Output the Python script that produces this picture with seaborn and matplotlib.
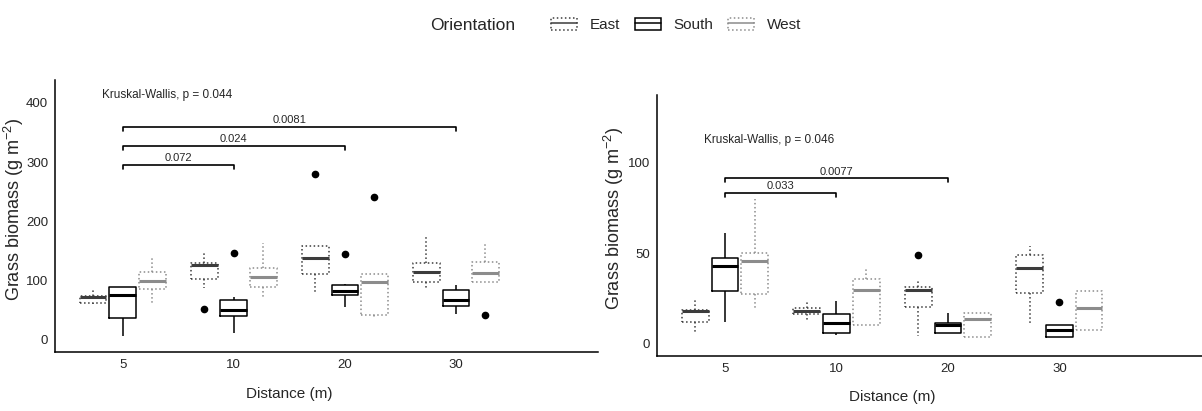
import numpy as np
import pandas as pd
import matplotlib.pyplot as plt
import seaborn as sns
from matplotlib.patches import Patch
from matplotlib.lines import Line2D
from matplotlib.legend_handler import HandlerTuple

# distances (x categories) and orientations (hue)
distances = ["5", "10", "20", "30"]
orientations = ["East", "South", "West"]

left_east = [
    [61, 62, 62, 62, 72, 72, 75, 75, 80, 87],
    [53, 87, 103, 103, 126, 126, 129, 129, 137, 146],
    [79, 95, 112, 112, 138, 138, 158, 158, 158, 280],
    [87, 92, 97, 97, 115, 115, 130, 130, 150, 174],
]
left_south = [
    [7, 20, 37, 37, 76, 76, 90, 90, 90, 90],
    [11, 30, 41, 41, 51, 51, 68, 68, 72, 146],
    [55, 70, 76, 76, 83, 83, 93, 93, 95, 145],
    [44, 50, 57, 57, 68, 68, 85, 85, 90, 93],
]
left_west = [
    [59, 75, 86, 86, 100, 100, 115, 115, 125, 138],
    [73, 82, 90, 90, 106, 106, 121, 121, 140, 163],
    [39, 40, 42, 42, 98, 98, 112, 112, 112, 242],
    [42, 97, 97, 97, 113, 113, 131, 131, 150, 166],
]
right_east = [
    [6, 9, 12, 12, 18, 18, 19, 19, 22, 25],
    [12.5, 14, 16.5, 16.5, 18, 18, 19.7, 19.7, 22, 24],
    [4.5, 12, 20.5, 20.5, 29.8, 29.8, 31.5, 31.5, 35.7, 49],
    [11, 20, 28, 28, 42, 42, 49, 49, 52, 54],
]
right_south = [
    [12, 20, 29, 29, 43, 43, 47.5, 47.5, 55, 61],
    [5, 6, 6.3, 6.3, 11.4, 11.4, 16.5, 16.5, 20, 24],
    [6, 6, 6, 6, 10.5, 10.5, 11.5, 11.5, 14, 17],
    [3.7, 3.7, 3.7, 3.7, 7.7, 7.7, 10.5, 10.5, 10.5, 23.3],
]
right_west = [
    [19, 23, 27.5, 27.5, 46, 46, 50.5, 50.5, 65, 80],
    [10.5, 10.5, 10.5, 10.5, 30, 30, 36, 36, 39, 42],
    [4, 4, 4, 4, 14, 14, 17, 17, 17, 17],
    [7.7, 7.7, 7.7, 7.7, 20, 20, 29, 29, 29, 29],
]

# pairwise comparisons: (group a, group b, bracket height, p label)
left_pairs = [(0, 1, 295, "0.072"), (0, 2, 327, "0.024"), (0, 3, 360, "0.0081")]
right_pairs = [(0, 1, 83.5, "0.033"), (0, 2, 91.4, "0.0077")]
left_kw = "Kruskal-Wallis, p = 0.044"
right_kw = "Kruskal-Wallis, p = 0.046"

colors = {"East": "#3c3c3c", "South": "#000000", "West": "#8c8c8c"}
styles = {"East": ":", "South": "-", "West": ":"}


def to_long(east, south, west):
    rows = []
    for name, series in zip(orientations, [east, south, west]):
        for dist, values in zip(distances, series):
            for v in values:
                rows.append({"Distance": dist, "Orientation": name, "biomass": v})
    return pd.DataFrame(rows)


sns.set_style("white")
plt.rcParams["font.family"] = ["Liberation Sans", "DejaVu Sans"]
plt.rcParams["mathtext.default"] = "regular"
narrow = ["Liberation Sans Narrow", "DejaVu Sans Condensed", "Liberation Sans"]

fig = plt.figure(figsize=(12.02, 4.11), dpi=100)
ax1 = fig.add_axes([0.0458, 0.1436, 0.4517, 0.662])
ax2 = fig.add_axes([0.5466, 0.134, 0.4534, 0.635])


def panel(ax, df, pairs, kw_text, kw_y, ylim, yticks, drop):
    for name in orientations:
        sub = df[df["Orientation"] == name]
        ls = styles[name]
        sns.boxplot(
            data=sub,
            x="Distance",
            y="biomass",
            hue="Orientation",
            order=distances,
            hue_order=orientations,
            palette=colors,
            dodge=True,
            fill=False,
            width=0.8,
            gap=0.1,
            showcaps=False,
            linewidth=1.1,
            legend=False,
            boxprops={"linestyle": ls},
            whiskerprops={"linestyle": ls},
            medianprops={"linewidth": 2.2, "linestyle": "-"},
            flierprops={"marker": "o", "markersize": 4.5,
                        "markerfacecolor": "black", "markeredgecolor": "black"},
            ax=ax,
        )

    for a, b, h, lab in pairs:
        ax.plot([a, a, b, b], [h - drop, h, h, h - drop], color="black", lw=1.2)
        ax.text((a + b) / 2, h + drop * 0.4, lab, ha="center", va="bottom",
                fontsize=8, family=narrow)

    ax.text(-0.19, kw_y, kw_text, ha="left", va="center", fontsize=8.5, family=narrow)

    ax.set_ylim(*ylim)
    ax.set_yticks(yticks)
    ax.set_xlim(-0.61, 4.28)
    ax.set_xlabel("Distance (m)", fontsize=11, family=narrow)
    ax.set_ylabel("Grass biomass (g m$^{-2}$)", fontsize=13)
    ax.xaxis.set_label_coords(0.432, -0.13)
    for lab in ax.get_xticklabels() + ax.get_yticklabels():
        lab.set_family(narrow)
        lab.set_fontsize(9.5)
    ax.tick_params(direction="out", length=3, width=0.8, color="black", pad=2)
    for side in ["top", "right"]:
        ax.spines[side].set_visible(False)
    for side in ["left", "bottom"]:
        ax.spines[side].set_color("black")
        ax.spines[side].set_linewidth(1.1)


panel(ax1, to_long(left_east, left_south, left_west), left_pairs, left_kw, 413,
      (-20.3, 438.8), [0, 100, 200, 300, 400], 7)
panel(ax2, to_long(right_east, right_south, right_west), right_pairs, right_kw, 112.5,
      (-6.6, 137.5), [0, 50, 100], 2.2)
ax1.yaxis.set_label_coords(-0.053, 0.525)
ax2.yaxis.set_label_coords(-0.056, 0.525)

handles = [
    (Patch(facecolor="white", edgecolor=colors[n], linestyle=styles[n], linewidth=1.1),
     Line2D([], [], color=colors[n], lw=1.1))
    for n in orientations
]
fig.text(430 / 1202, 1 - 25 / 411, "Orientation", ha="left", va="center", fontsize=12.5)
fig.legend(handles, orientations, loc="center", bbox_to_anchor=(676 / 1202, 1 - 25 / 411),
           ncol=3, frameon=False, fontsize=11, handlelength=1.7, handleheight=0.9,
           handletextpad=0.8, columnspacing=1.0,
           handler_map={tuple: HandlerTuple(ndivide=1)})

plt.savefig("out.png", dpi=100)
plt.close()
